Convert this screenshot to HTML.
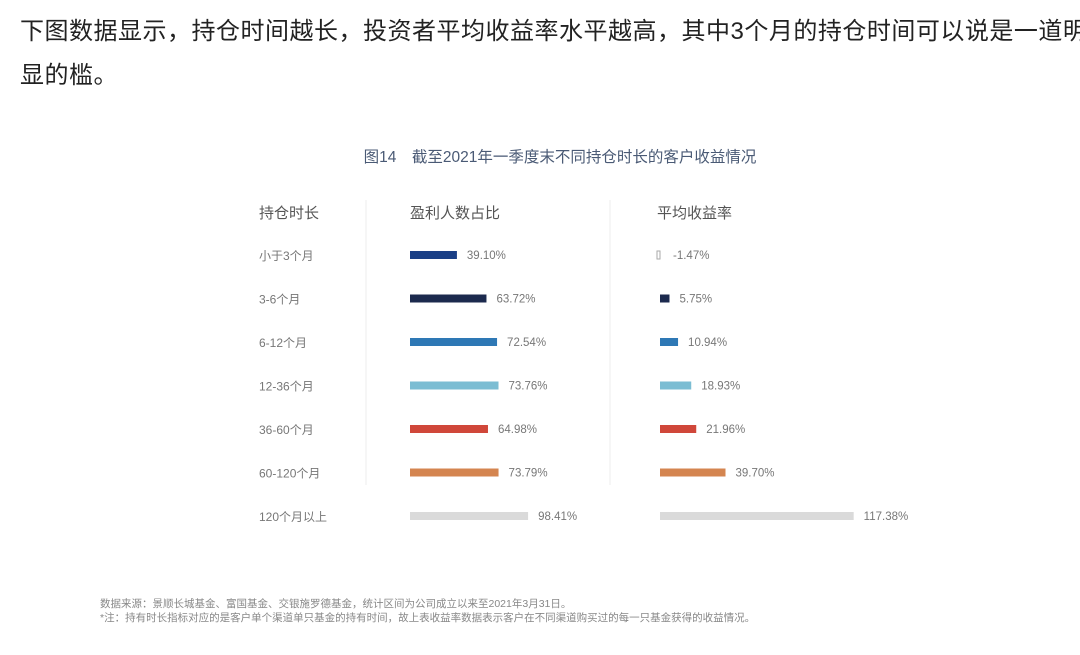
<!DOCTYPE html>
<html><head><meta charset="utf-8"><style>
body{margin:0;width:1080px;height:655px;background:#fff;overflow:hidden;font-family:"Liberation Sans","Noto Sans CJK SC",sans-serif;}
.intro{position:absolute;left:20px;font-size:24px;line-height:30px;color:#222;white-space:nowrap;letter-spacing:0.5px}
svg text{font-family:"Liberation Sans","Noto Sans CJK SC",sans-serif}
</style></head><body>
<div class="intro" style="top:17px">下图数据显示，持仓时间越长，投资者平均收益率水平越高，其中3个月的持仓时间可以说是一道明</div>
<div class="intro" style="top:61px">显的槛。</div>
<svg width="1080" height="655" style="position:absolute;left:0;top:0">
<text x="560" y="162" text-anchor="middle" font-size="15.5" fill="#4a5a75">图14　截至2021年一季度末不同持仓时长的客户收益情况</text>
<line x1="366" y1="200" x2="366" y2="485" stroke="#eee"/>
<line x1="610" y1="200" x2="610" y2="485" stroke="#eee"/>
<text x="259" y="218" font-size="15" fill="#555">持仓时长</text>
<text x="410" y="218" font-size="15" fill="#555">盈利人数占比</text>
<text x="657" y="218" font-size="15" fill="#555">平均收益率</text>
<g id="rows"></g>
<text x="100" y="607" font-size="10.5" fill="#888">数据来源：景顺长城基金、富国基金、交银施罗德基金，统计区间为公司成立以来至2021年3月31日。</text>
<text x="100" y="621" font-size="10.5" fill="#888">*注：持有时长指标对应的是客户单个渠道单只基金的持有时间，故上表收益率数据表示客户在不同渠道购买过的每一只基金获得的收益情况。</text>
</svg>
<script>
const categories=["小于3个月","3-6个月","6-12个月","12-36个月","36-60个月","60-120个月","120个月以上"];
const profitRatio=[39.10,63.72,72.54,73.76,64.98,73.79,98.41];
const avgReturn=[-1.47,5.75,10.94,18.93,21.96,39.70,117.38];
const colors=["#1a3f86","#1c2a4e","#2e78b5","#7bbdd3","#d0473a","#d48550","#dadada"];
const ns="http://www.w3.org/2000/svg";
const g=document.getElementById('rows');
const rowY=i=>255+i*43.5;
const xLeft=v=>v*1.2, xRight=v=>v*1.65;
function mk(tag,attrs){const e=document.createElementNS(ns,tag);for(const k in attrs)e.setAttribute(k,attrs[k]);g.appendChild(e);return e;}
categories.forEach((c,i)=>{
  const y=rowY(i);
  const t=mk('text',{x:259,y:y+5,'font-size':12,fill:'#777'});t.textContent=c;
  
  
  const w1=xLeft(profitRatio[i]);
  const b1=mk('rect',{x:410,y:y-4,width:w1,height:8,fill:colors[i]});
  
  
  const l1=mk('text',{x:410+w1+10,y:y+4,'font-size':11.5,fill:'#777'});l1.textContent=profitRatio[i].toFixed(2)+'%';
  
  
  const v=avgReturn[i];const w2=Math.max(Math.abs(xRight(v)),3);
  const b2=mk('rect',{x:v<0?657:660,y:y-4,width:w2,height:8,fill:v<0?'#fff':colors[i],stroke:v<0?'#aaa':'none'});
  
  
  const l2=mk('text',{x:660+w2+10,y:y+4,'font-size':11.5,fill:'#777'});l2.textContent=v.toFixed(2)+'%';
  
  
});
</script>
</body></html>
